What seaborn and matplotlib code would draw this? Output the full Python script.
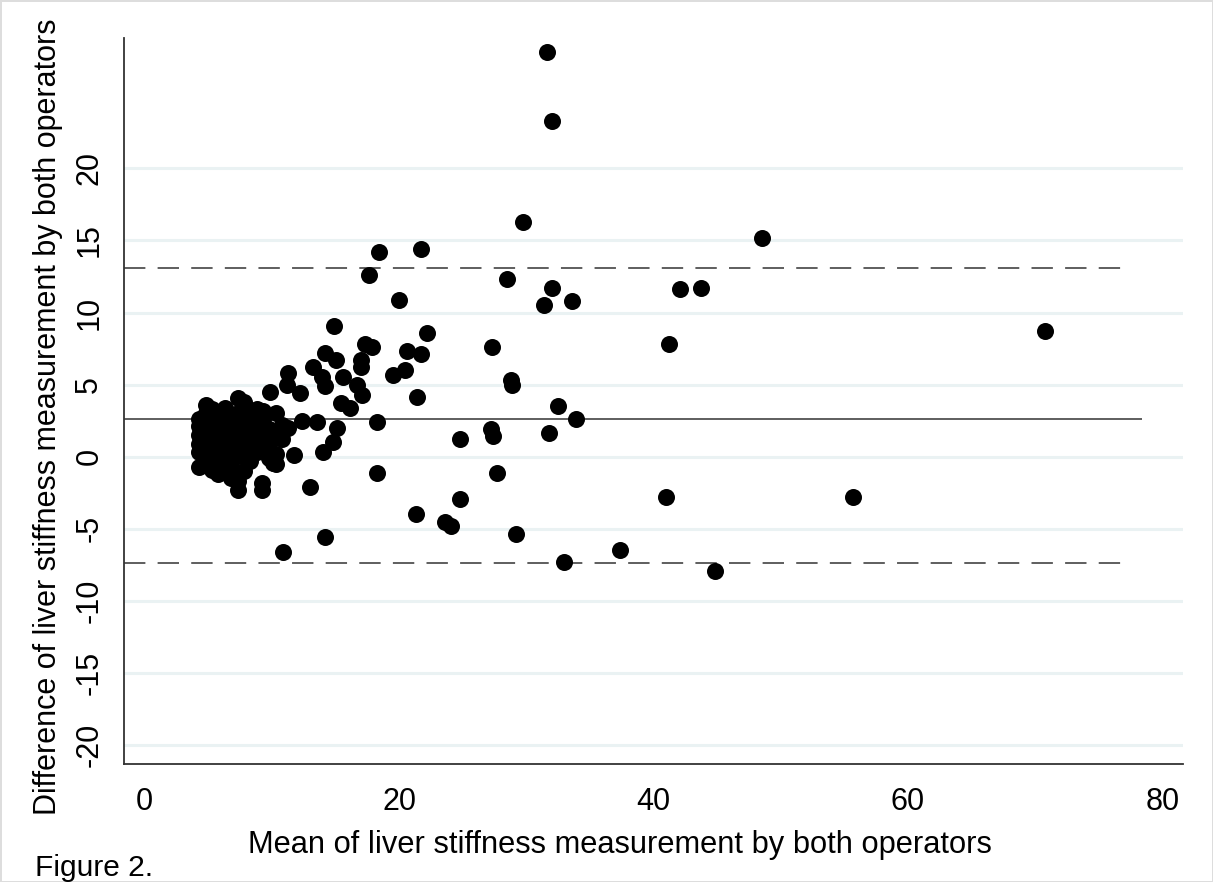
import matplotlib
matplotlib.use("Agg")
import matplotlib.pyplot as plt
import seaborn as sns
import pandas as pd

# ---- data ----
mean_vals = [
    31.6, 32.0, 29.7, 48.5, 21.7, 18.4, 17.65, 28.5, 32.0, 42.1, 43.7, 33.6, 31.4, 20.0,
    22.2, 70.8, 14.9, 41.2, 27.3, 17.3, 17.9, 20.6, 21.7, 14.2, 15.05, 17.0, 17.0, 20.5,
    13.2, 11.3, 19.5, 15.6, 13.9, 14.2, 28.8, 28.9, 11.2, 16.7, 17.1, 21.4, 9.85, 12.2,
    15.4, 16.1, 32.5, 33.9, 18.3, 13.55, 12.4, 15.1, 14.8, 27.2, 27.4, 24.8, 31.8, 14.0,
    11.7, 27.7, 18.3, 13.0, 41.0, 55.7, 24.8, 21.3, 23.6, 24.1, 29.2, 14.2, 10.9, 37.4,
    33.0, 44.8, 10.1, 9.2, 9.2,
    # dense cluster
    4.3, 4.3, 4.3, 4.3, 4.3, 4.3,
    4.8, 4.8, 4.8, 4.8, 4.8, 4.8, 4.8,
    5.3, 5.3, 5.3, 5.3, 5.3, 5.3, 5.3,
    5.8, 5.8, 5.8, 5.8, 5.8, 5.8, 5.8,
    6.3, 6.3, 6.3, 6.3, 6.3, 6.3,
    6.8, 6.8, 6.8, 6.8, 6.8, 6.8,
    7.3, 7.3, 7.3, 7.3, 7.3, 7.3, 7.3,
    7.8, 7.8, 7.8, 7.8, 7.8, 7.8,
    8.3, 8.3, 8.3, 8.3, 8.3,
    8.8, 8.8, 8.8, 8.8,
    9.3, 9.3, 9.3, 9.3,
    9.8, 9.8, 9.8,
    10.3, 10.3, 10.3, 10.3,
    10.8, 10.8, 11.3,
]
diff_vals = [
    28.05, 23.3, 16.25, 15.2, 14.4, 14.2, 12.6, 12.3, 11.7, 11.6, 11.7, 10.8, 10.5, 10.9,
    8.6, 8.7, 9.1, 7.8, 7.6, 7.8, 7.6, 7.3, 7.1, 7.2, 6.7, 6.7, 6.25, 6.0,
    6.2, 5.8, 5.7, 5.55, 5.5, 4.9, 5.35, 5.0, 5.0, 5.0, 4.3, 4.15, 4.5, 4.4,
    3.75, 3.4, 3.55, 2.6, 2.4, 2.4, 2.5, 2.0, 1.05, 1.9, 1.45, 1.25, 1.65, 0.3,
    0.15, -1.1, -1.1, -2.1, -2.8, -2.8, -2.9, -4.0, -4.5, -4.8, -5.35, -5.6, -6.6, -6.5,
    -7.3, -7.9, -0.4, -1.8, -2.3,
    # dense cluster
    -0.7, 0.3, 0.9, 1.5, 2.1, 2.6,
    -0.5, 0.5, 1.2, 1.8, 2.4, 3.0, 3.6,
    -0.9, -0.1, 0.7, 1.4, 2.0, 2.8, 3.3,
    -1.2, -0.4, 0.4, 1.1, 1.7, 2.5, 3.1,
    -0.2, 0.6, 1.3, 2.0, 2.7, 3.4,
    -1.5, -0.6, 0.2, 1.0, 1.8, 2.6,
    -2.3, -1.7, 0.5, 1.5, 2.2, 3.0, 4.1,
    -1.0, 0.0, 0.9, 1.9, 2.7, 3.8,
    -0.3, 0.7, 1.3, 2.4, 3.1,
    0.3, 1.1, 2.0, 3.3,
    0.6, 1.7, 2.6, 3.2,
    -0.1, 1.0, 1.9,
    -0.5, 0.2, 1.4, 3.0,
    1.2, 2.2, 2.0,
]
mean_diff = 2.64
limits_of_agreement = [13.06, -7.36]
line_ends = [78.4, 77.5, 76.8]  # mean line, upper LoA, lower LoA

x_ticks = [0, 20, 40, 60, 80]
y_ticks = [-20, -15, -10, -5, 0, 5, 10, 15, 20]

df = pd.DataFrame({"mean": mean_vals, "diff": diff_vals})

sns.set_theme(style="white")
plt.rcParams["font.family"] = ["Liberation Sans", "DejaVu Sans"]

fig = plt.figure(figsize=(12.13, 8.82), dpi=100)
fig.patch.set_edgecolor("#dddddd")
fig.patch.set_linewidth(2)
ax = fig.add_axes([0.102, 0.134, 0.873, 0.823])

xlim = (-1.65, 81.6)
ylim = (-21.3, 29.05)

for yt in y_ticks:
    ax.axhline(yt, color="#eaf2f3", lw=2.2, zorder=0)

ax.hlines(mean_diff, xlim[0], line_ends[0], color="#333333", lw=1.1, zorder=1)
ax.hlines(limits_of_agreement[0], xlim[0], line_ends[1], color="#333333", lw=1.1,
          linestyles=(0, (14, 8)), zorder=1)
ax.hlines(limits_of_agreement[1], xlim[0], line_ends[2], color="#333333", lw=1.1,
          linestyles=(0, (14, 8)), zorder=1)

sns.scatterplot(data=df, x="mean", y="diff", ax=ax, color="black", s=150,
                edgecolor="black", linewidth=0, zorder=3)

ax.set_xlim(*xlim)
ax.set_ylim(*ylim)
ax.set_xticks(x_ticks)
ax.set_yticks(y_ticks)
ax.set_yticklabels([str(v) for v in y_ticks], rotation=90, va="center")
ax.tick_params(axis="both", direction="out", length=11, width=1.2, color="#333333",
               labelsize=22, labelcolor="black", pad=3)
ax.tick_params(axis="x", pad=6)

for side in ["top", "right"]:
    ax.spines[side].set_visible(False)
for side in ["left", "bottom"]:
    ax.spines[side].set_color("#333333")
    ax.spines[side].set_linewidth(1.3)

ax.set_xlabel("Mean of liver stiffness measurement by both operators", fontsize=22.2,
              color="black", labelpad=9)
ax.set_ylabel("Difference of liver stiffness measurement by both operators",
              fontsize=22.0, color="black", labelpad=8)
ax.xaxis.label.set_x(0.469)
ax.yaxis.label.set_y(0.478)

fig.text(35 / 1213, 6 / 882, "Figure 2.", fontsize=21.5, color="black",
         ha="left", va="baseline")

fig.savefig("out.png", dpi=100)
